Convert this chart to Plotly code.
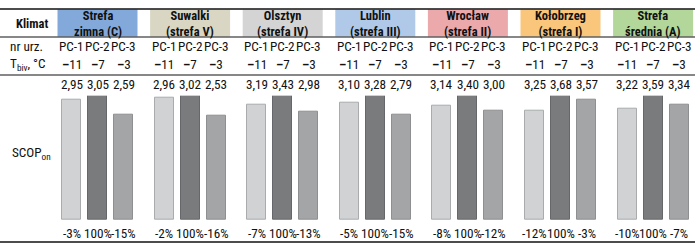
import plotly.graph_objects as go

W, H = 700, 246

regions = ["Strefa<br>zimna (C)", "Suwalki<br>(strefa V)", "Olsztyn<br>(strefa IV)",
           "Lublin<br>(strefa III)", "Wrocław<br>(strefa II)", "Kołobrzeg<br>(strefa I)",
           "Strefa<br>średnia (A)"]
region_colors = ["#82a9d9", "#d9d7c4", "#d4d4d4", "#b0c9e8", "#eba9ac", "#f9c67c", "#b3d69b"]
devices = ["PC-1", "PC-2", "PC-3"]
t_biv = [-11, -7, -3]
pc1 = [2.95, 2.96, 3.19, 3.10, 3.14, 3.25, 3.22]
pc2 = [3.05, 3.02, 3.43, 3.28, 3.40, 3.68, 3.59]
pc3 = [2.59, 2.53, 2.98, 2.79, 3.00, 3.57, 3.34]
pct1 = ["-3%", "-2%", "-7%", "-5%", "-8%", "-12%", "-10%"]
pct2 = ["100%"] * 7
pct3 = ["-15%", "-16%", "-13%", "-15%", "-12%", "-3%", "-7%"]

bar_fill = ["#d0d2d4", "#7a7b7d", "#a4a5a7"]
bar_line = ["#a9abad", "#66676a", "#8e8f91"]

FONT = "Liberation Sans Narrow, Arial Narrow, Roboto Condensed, Liberation Sans, Arial, sans-serif"
FS = 13.2

x0, pitch, boff = 97.5, 92.6, 26.0
centers = [x0 + i * pitch for i in range(len(regions))]

def py(y):
    return 1 - y / H

fig = go.Figure()
series = [pc1, pc2, pc3]
for j in range(3):
    xs = [c + (j - 1) * boff for c in centers]
    ys = [series[j][i] / pc2[i] for i in range(len(regions))]
    fig.add_trace(go.Bar(x=xs, y=ys, width=19, marker=dict(color=bar_fill[j], line=dict(color=bar_line[j], width=1)),
                         showlegend=False, hoverinfo="skip"))

shapes = []
ann = []
for i, c in enumerate(centers):
    right = min(c + 40, 695)
    shapes.append(dict(type="rect", xref="x", yref="paper", x0=c - 40, x1=right, y0=py(36.5), y1=py(9.5),
                       fillcolor=region_colors[i], line=dict(width=0), layer="below"))
    ann.append(dict(x=c, y=py(23), xref="x", yref="paper", text="<b>" + regions[i] + "</b>", showarrow=False,
                    font=dict(size=12.5, family=FONT, color="#111"), align="center", yanchor="middle"))
    for j in range(3):
        xx = c + (j - 1) * boff
        ann.append(dict(x=xx, y=py(47), xref="x", yref="paper", text=devices[j], showarrow=False,
                        font=dict(size=FS, family=FONT, color="#111"), yanchor="middle"))
        ann.append(dict(x=xx, y=py(65), xref="x", yref="paper", text="<b>–</b>" + str(abs(t_biv[j])), showarrow=False,
                        font=dict(size=FS, family=FONT, color="#111"), yanchor="middle"))
        v = series[j][i]
        ann.append(dict(x=xx, y=py(84), xref="x", yref="paper", text=f"{v:.2f}".replace(".", ","), showarrow=False,
                        font=dict(size=FS, family=FONT, color="#111"), yanchor="middle"))
        p = [pct1, pct2, pct3][j][i]
        ann.append(dict(x=xx, y=py(233), xref="x", yref="paper", text=p, showarrow=False,
                        font=dict(size=FS, family=FONT, color="#111"), yanchor="middle"))

ann.append(dict(x=32, y=py(23), xref="x", yref="paper", text="<b>Klimat</b>", showarrow=False,
                font=dict(size=12.5, family=FONT, color="#111"), yanchor="middle"))
ann.append(dict(x=8, y=py(47), xref="x", yref="paper", text="nr urz.", showarrow=False, xanchor="left",
                font=dict(size=FS, family=FONT, color="#111"), yanchor="middle"))
ann.append(dict(x=8, y=py(65), xref="x", yref="paper", text="T<sub>biv</sub>, °C", showarrow=False, xanchor="left",
                font=dict(size=FS, family=FONT, color="#111"), yanchor="middle"))
ann.append(dict(x=10, y=py(153), xref="x", yref="paper", text="SCOP<sub>on</sub>", showarrow=False, xanchor="left",
                font=dict(size=FS, family=FONT, color="#111"), yanchor="middle"))

for yy, w in [(9, 1.6), (37, 1.2), (75, 1.2), (242, 1.6)]:
    shapes.append(dict(type="line", xref="paper", yref="paper", x0=0, x1=695 / W, y0=py(yy), y1=py(yy),
                       line=dict(color="#111", width=w)))

fig.update_layout(
    width=W, height=H, margin=dict(l=0, r=0, t=0, b=0),
    paper_bgcolor="white", plot_bgcolor="white",
    xaxis=dict(range=[0, W], visible=False, fixedrange=True),
    yaxis=dict(range=[0, 1], domain=[py(220), py(95.7)], visible=False, fixedrange=True),
    shapes=shapes, annotations=ann, bargap=0,
)
fig.write_html("out.html")
